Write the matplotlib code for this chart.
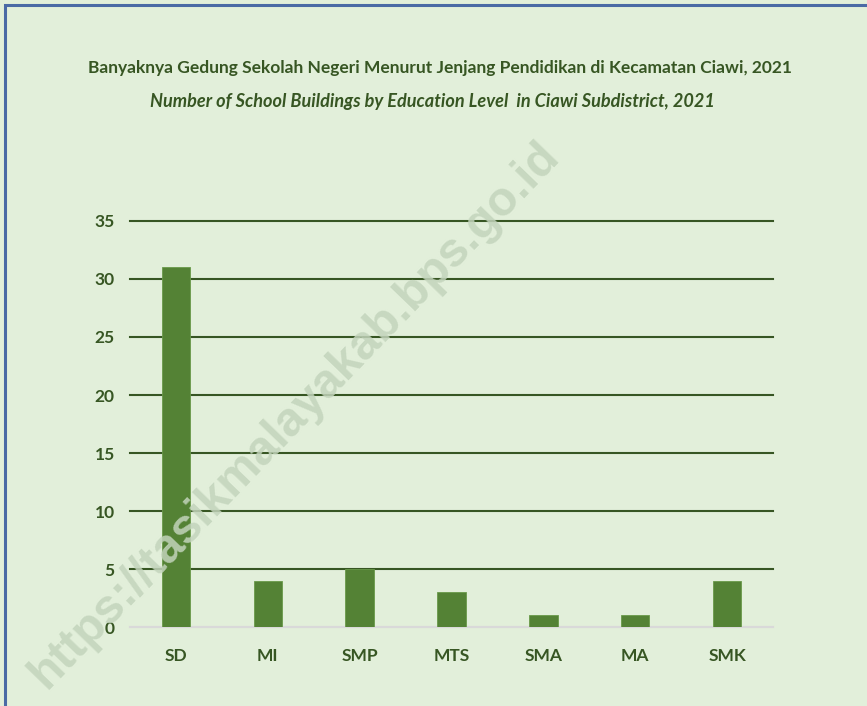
import matplotlib
matplotlib.use('Agg')
import matplotlib.pyplot as plt
from matplotlib.patches import Rectangle

categories = ['SD', 'MI', 'SMP', 'MTS', 'SMA', 'MA', 'SMK']
counts = [31, 4, 5, 3, 1, 1, 4]
yticks = [0, 5, 10, 15, 20, 25, 30, 35]

title_id = 'Banyaknya Gedung Sekolah Negeri Menurut Jenjang Pendidikan di Kecamatan Ciawi, 2021'
title_en = 'Number of School Buildings by Education Level  in Ciawi Subdistrict, 2021'
watermark = 'https://tasikmalayakab.bps.go.id'

BG = '#e2efda'
DARK = '#375623'
BAR = '#548235'

plt.rcParams['font.family'] = ['Lato', 'DejaVu Sans']

W, H = 867, 706
fig = plt.figure(figsize=(W / 100, H / 100), dpi=100)
fig.patch.set_facecolor(BG)

# frame: only top and left edges visible (image is cropped)
fig.add_artist(Rectangle((5 / W, -0.1), 1.2, (H - 5) / H + 0.1,
                         transform=fig.transFigure, fill=False,
                         edgecolor='#4a6aa5', linewidth=2.2))

ax = fig.add_axes([130 / W, (H - 627) / H, (773 - 130) / W, (627 - 221) / H])
ax.set_facecolor(BG)
x = range(len(categories))
ax.bar(x, counts, width=0.31, color=BAR, edgecolor='#6a9a4a',
       linewidth=0.6, zorder=3)
ax.set_xlim(-0.5, len(categories) - 0.5)
ax.set_ylim(0, 35)
ax.set_yticks(yticks)
ax.set_xticks(list(x))
ax.set_xticklabels(categories)
ax.grid(axis='y', color=DARK, linewidth=1.5, zorder=1)
for gl in ax.get_ygridlines():
    gl.set_clip_on(False)
ax.get_ygridlines()[0].set_visible(False)
ax.axhline(0, color='#d9d9d9', linewidth=1.6, zorder=2, clip_on=False)
for s in ax.spines.values():
    s.set_visible(False)
ax.tick_params(length=0, labelsize=12.5, labelcolor=DARK)
ax.tick_params(axis='y', pad=11)
ax.tick_params(axis='x', pad=15)
for lab in ax.get_xticklabels() + ax.get_yticklabels():
    lab.set_fontweight('bold')

fig.text(440 / W, 1 - 68 / H, title_id, ha='center', va='center',
         fontsize=12.5, fontweight='bold', color=DARK)
fig.text(432 / W, 1 - 101 / H, title_en, ha='center', va='center',
         fontsize=13.1, fontweight='bold', fontstyle='italic', color=DARK)

fig.text(295 / W, 1 - 415 / H, watermark, ha='center', va='center',
         rotation=46, fontsize=34.5, fontweight='bold', color='#c3d4bc',
         family=['Liberation Sans', 'DejaVu Sans'], alpha=0.85, zorder=10)

fig.savefig('out.png', dpi=100, facecolor=BG)
